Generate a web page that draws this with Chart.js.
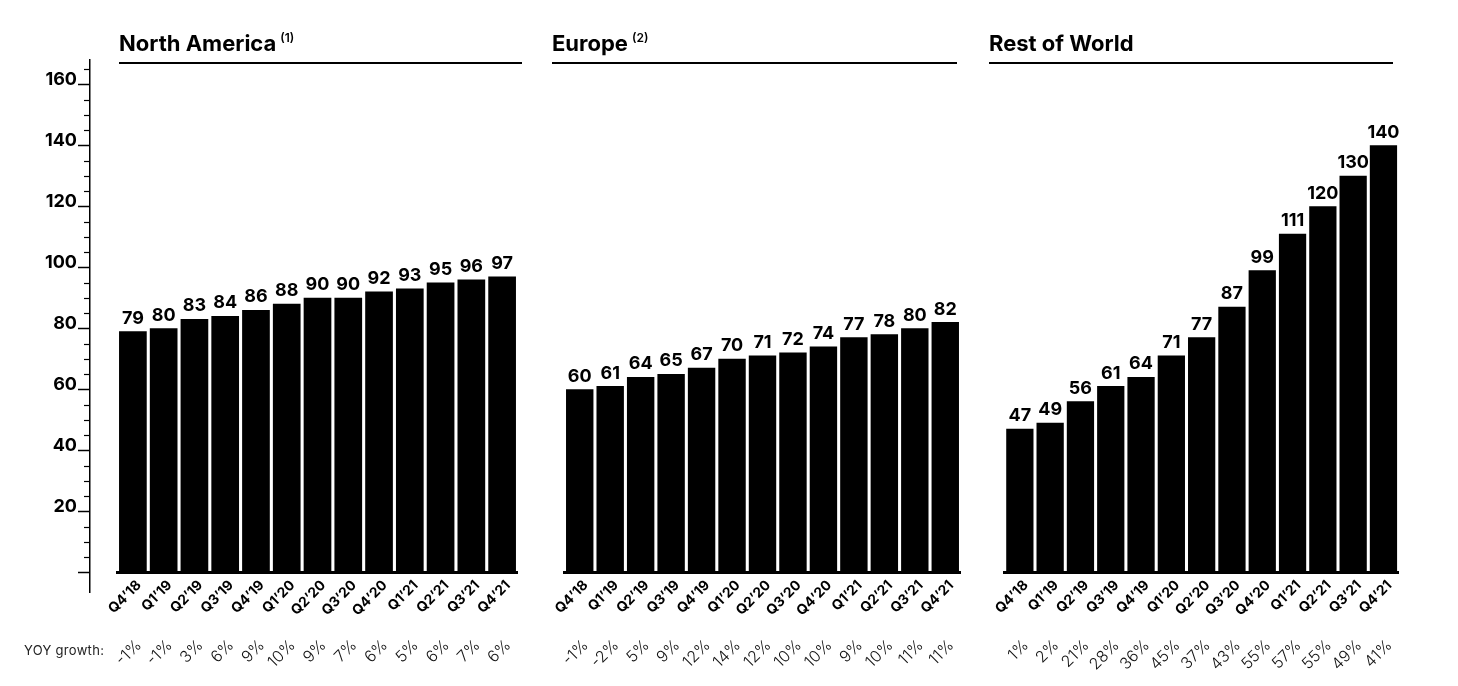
<!DOCTYPE html>
<html>
<head>
<meta charset="utf-8">
<script src="https://cdn.jsdelivr.net/npm/chart.js@4.4.1/dist/chart.umd.min.js"></script>
<style>
  body { margin: 0; background: #fff; font-family: Inter, "Noto Sans", sans-serif; }
  #wrap { position: relative; width: 1458px; height: 686px; overflow: hidden; }
  canvas { position: absolute; left: 0; top: 0; }
  .title { position: absolute; top: 28px; height: 34px; border-bottom: 2px solid #000;
           font-weight: 700; font-size: 22px; color: #000; line-height: 30px; }
  .title .sup { font-size: 12px; font-weight: 600; position: relative; top: -9px; margin-left: 4px; }
  #yoy { position: absolute; left: 24px; top: 642px; font-size: 13px; color: #222; letter-spacing: 0.3px; }
</style>
</head>
<body>
<div id="wrap">
  <canvas id="axisChart" width="1458" height="686"></canvas>
  <canvas id="naChart" width="1458" height="686"></canvas>
  <canvas id="euChart" width="1458" height="686"></canvas>
  <canvas id="rowChart" width="1458" height="686"></canvas>
  <div class="title" style="left:119px;width:403px">North America<span class="sup">(1)</span></div>
  <div class="title" style="left:552px;width:405px">Europe<span class="sup">(2)</span></div>
  <div class="title" style="left:989px;width:404px">Rest of World</div>
  <div id="yoy">YOY growth:</div>
</div>
<script>
// quarters shared by all three panels
const quarters = ['Q4’18', 'Q1’19', 'Q2’19', 'Q3’19', 'Q4’19', 'Q1’20', 'Q2’20', 'Q3’20', 'Q4’20', 'Q1’21', 'Q2’21', 'Q3’21', 'Q4’21'];

const naValues = [79, 80, 83, 84, 86, 88, 90, 90, 92, 93, 95, 96, 97];
const euValues = [60, 61, 64, 65, 67, 70, 71, 72, 74, 77, 78, 80, 82];
const rowValues = [47, 49, 56, 61, 64, 71, 77, 87, 99, 111, 120, 130, 140];

const naGrowth = ['-1%', '-1%', '3%', '6%', '9%', '10%', '9%', '7%', '6%', '5%', '6%', '7%', '6%'];
const euGrowth = ['-1%', '-2%', '5%', '9%', '12%', '14%', '12%', '10%', '10%', '9%', '10%', '11%', '11%'];
const rowGrowth = ['1%', '2%', '21%', '28%', '36%', '45%', '37%', '43%', '55%', '57%', '55%', '49%', '41%'];

const yTicks = [0, 20, 40, 60, 80, 100, 120, 140, 160];

const FONT = 'Inter, "Noto Sans", sans-serif';
const Y_MAX = 168;
const W = 1458, H = 686;

// value labels on top of the bars
const barLabels = {
    id: 'barLabels',
    afterDatasetsDraw(chart) {
        const ctx = chart.ctx;
        const meta = chart.getDatasetMeta(0);
        const vals = chart.data.datasets[0].data;
        ctx.save();
        ctx.font = '700 18px ' + FONT;
        ctx.fillStyle = '#000';
        ctx.textAlign = 'center';
        ctx.textBaseline = 'bottom';
        meta.data.forEach((bar, i) => {
            ctx.fillText(vals[i], bar.x, bar.y - 4);
        });
        ctx.restore();
    }
};

// small ticks every 5 on the y axis
const minorTicks = {
    id: 'minorTicks',
    afterDraw(chart) {
        const y = chart.scales.y;
        const ctx = chart.ctx;
        const x0 = chart.chartArea.left;
        ctx.save();
        ctx.strokeStyle = '#000';
        ctx.lineWidth = 1.2;
        for (let v = 5; v < Y_MAX; v += 5) {
            if (v % 20 === 0) continue;
            const py = Math.round(y.getPixelForValue(v)) + 0.5;
            ctx.beginPath();
            ctx.moveTo(x0 - 6, py);
            ctx.lineTo(x0, py);
            ctx.stroke();
        }
        ctx.restore();
    }
};

// y axis on its own canvas
new Chart(document.getElementById('axisChart'), {
    type: 'bar',
    data: { labels: [], datasets: [] },
    options: {
        responsive: false,
        animation: false,
        layout: { padding: { left: 40, top: 60, right: W - 100, bottom: H - 592 } },
        plugins: { legend: { display: false }, tooltip: { enabled: false } },
        scales: {
            x: { display: false },
            y: {
                min: -6.4,
                max: Y_MAX,
                afterFit(s) { s.width = 50; },
                afterBuildTicks(s) { s.ticks = yTicks.map(v => ({ value: v })); },
                border: { display: true, color: '#000', width: 1.5 },
                grid: { drawOnChartArea: false, drawTicks: true, tickLength: 12, tickColor: '#000', tickWidth: 1.5 },
                ticks: {
                    padding: 1,
                    labelOffset: -5,
                    color: '#000',
                    font: { family: FONT, size: 18, weight: '700' },
                    callback: v => (v === 0 ? '' : v)
                }
            }
        }
    },
    plugins: [minorTicks]
});

function panel(id, values, growth, left, right) {
    return new Chart(document.getElementById(id), {
        type: 'bar',
        data: {
            labels: quarters,
            datasets: [{
                data: values,
                backgroundColor: '#000',
                barPercentage: 0.9,
                categoryPercentage: 1.0
            }]
        },
        options: {
            responsive: false,
            animation: false,
            layout: { padding: { left: left, right: W - right, top: 60, bottom: 4 } },
            plugins: { legend: { display: false }, tooltip: { enabled: false } },
            scales: {
                y: { display: false, min: 0, max: Y_MAX },
                x: {
                    offset: true,
                    afterFit(s) { s.height = 60; s.paddingLeft = 0; s.paddingRight = 0; },
                    grid: { display: false, drawTicks: false },
                    border: { display: true, color: '#000', width: 3 },
                    ticks: {
                        autoSkip: false,
                        minRotation: 45,
                        maxRotation: 45,
                        padding: 5,
                        labelOffset: 6,
                        color: '#000',
                        font: { family: FONT, size: 14, weight: '700' }
                    }
                },
                x2: {
                    type: 'category',
                    position: 'bottom',
                    labels: growth,
                    offset: true,
                    afterFit(s) { s.height = 50; s.paddingLeft = 0; s.paddingRight = 0; },
                    grid: { display: false, drawTicks: false },
                    border: { display: false },
                    ticks: {
                        autoSkip: false,
                        minRotation: 45,
                        maxRotation: 45,
                        padding: 4,
                        labelOffset: 6,
                        color: '#111',
                        font: { family: FONT, size: 16, weight: '300' }
                    }
                }
            }
        },
        plugins: [barLabels]
    });
}

panel('naChart', naValues, naGrowth, 117.5, 517.5);
panel('euChart', euValues, euGrowth, 564.5, 960.5);
panel('rowChart', rowValues, rowGrowth, 1004.7, 1398.6);
</script>
</body>
</html>
